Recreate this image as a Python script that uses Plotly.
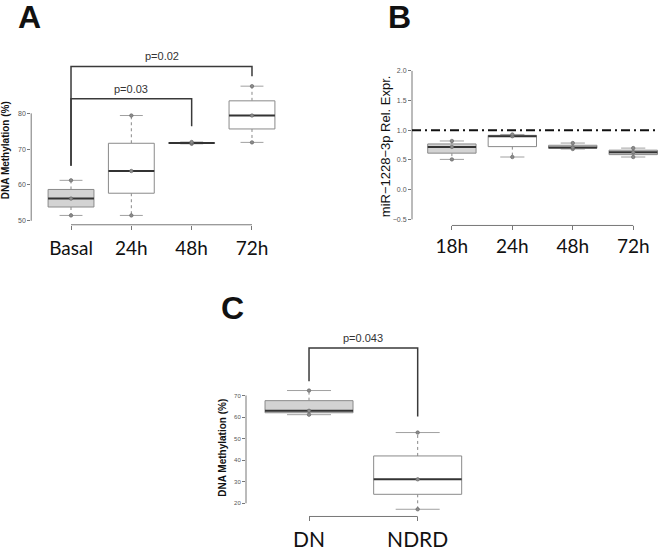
import numpy as np
import plotly.graph_objects as go

# ---------------- data ----------------
# Panel A: DNA methylation over time
a_groups = ["Basal", "24h", "48h", "72h"]
a_values = [[51.5, 56.2, 61.3], [51.5, 63.9, 79.4], [71.5, 71.7, 72.0], [71.9, 79.4, 87.6]]
a_fill = ["#d3d3d3", "#ffffff", "#ffffff", "#ffffff"]
a_yticks = [50, 60, 70, 80]
a_p_text = ["p=0.03", "p=0.02"]
a_p_from = [1, 1]
a_p_to = [3, 4]
a_p_top = [84.1, 93.1]
a_p_left_bottom = [65.4, 65.4]
a_p_right_bottom = [76.4, 90.4]

# Panel B: miR-1228-3p relative expression
b_groups = ["18h", "24h", "48h", "72h"]
b_values = [[0.51, 0.72, 0.82], [0.55, 0.90, 0.93], [0.685, 0.71, 0.785], [0.55, 0.63, 0.70]]
b_fill = ["#d3d3d3", "#ffffff", "#ebebeb", "#d3d3d3"]
b_yticks = [-0.5, 0.0, 0.5, 1.0, 1.5, 2.0]
b_ref = 1.0

# Panel C: DN vs NDRD
c_groups = ["DN", "NDRD"]
c_values = [[61.1, 62.9, 72.3], [17.2, 31.1, 52.8]]
c_fill = ["#d3d3d3", "#ffffff"]
c_yticks = [20, 30, 40, 50, 60, 70]
c_p_text = ["p=0.043"]
c_p_from = [1]
c_p_to = [2]
c_p_top = [92.0]
c_p_left_bottom = [76.6]
c_p_right_bottom = [60.2]

W, H = 658, 551
BOX_LINE = "#8a8a8a"
MED_LINE = "#333333"
AX_LINE = "#777777"

fig = go.Figure()


def add_boxes(values, fills, width, xa, ya):
    for i, (vals, fc) in enumerate(zip(values, fills)):
        xi = i + 1
        v = np.array(vals, dtype=float)
        q1, med, q3 = np.quantile(v, [0.25, 0.5, 0.75])
        lo, hi = v.min(), v.max()
        h = width / 2
        c = width / 4
        # whiskers (dotted)
        fig.add_trace(go.Scatter(x=[xi, xi, None, xi, xi], y=[q3, hi, None, q1, lo],
                                 mode="lines", line=dict(color="#888888", width=1, dash="dot"),
                                 xaxis=xa, yaxis=ya, hoverinfo="skip", showlegend=False))
        # caps
        fig.add_trace(go.Scatter(x=[xi - c, xi + c, None, xi - c, xi + c], y=[hi, hi, None, lo, lo],
                                 mode="lines", line=dict(color="#a0a0a0", width=1),
                                 xaxis=xa, yaxis=ya, hoverinfo="skip", showlegend=False))
        # box
        fig.add_trace(go.Scatter(x=[xi - h, xi + h, xi + h, xi - h, xi - h], y=[q1, q1, q3, q3, q1],
                                 mode="lines", fill="toself", fillcolor=fc,
                                 line=dict(color=BOX_LINE, width=1),
                                 xaxis=xa, yaxis=ya, hoverinfo="skip", showlegend=False))
        # median
        fig.add_trace(go.Scatter(x=[xi - h, xi + h], y=[med, med], mode="lines",
                                 line=dict(color=MED_LINE, width=2),
                                 xaxis=xa, yaxis=ya, hoverinfo="skip", showlegend=False))
        # points
        fig.add_trace(go.Scatter(x=[xi] * len(v), y=v, mode="markers",
                                 marker=dict(size=3.5, color="#8c8c8c", line=dict(color="#606060", width=0.6)),
                                 xaxis=xa, yaxis=ya, showlegend=False))


def add_brackets(texts, x0s, x1s, tops, lbs, rbs, xa, ya):
    for t, x0, x1, top, lb, rb in zip(texts, x0s, x1s, tops, lbs, rbs):
        fig.add_trace(go.Scatter(x=[x0, x0, x1, x1], y=[lb, top, top, rb], mode="lines",
                                 line=dict(color="#3a3a3a", width=1.5),
                                 xaxis=xa, yaxis=ya, hoverinfo="skip", showlegend=False))
        fig.add_annotation(x=(x0 + x1) / 2, y=top, xref=xa, yref=ya, text=t, showarrow=False,
                           yanchor="bottom", yshift=2,
                           font=dict(family="Liberation Sans, Arial", size=11, color="#333333"))


add_boxes(a_values, a_fill, 0.76, "x", "y")
add_brackets(a_p_text, a_p_from, a_p_to, a_p_top, a_p_left_bottom, a_p_right_bottom, "x", "y")
add_boxes(b_values, b_fill, 0.80, "x2", "y2")
add_boxes(c_values, c_fill, 0.81, "x3", "y3")
add_brackets(c_p_text, c_p_from, c_p_to, c_p_top, c_p_left_bottom, c_p_right_bottom, "x3", "y3")


def dom_x(p0, p1):
    return [p0 / W, p1 / W]


def dom_y(top_px, bot_px):
    return [1 - bot_px / H, 1 - top_px / H]


xfont = dict(family="Lato, Carlito, Calibri, sans-serif", size=19, color="#111111")
yfont = dict(family="Liberation Sans, Arial", size=7, color="#555555")

common_x = dict(showgrid=False, zeroline=False, showline=False, ticks="outside", ticklen=4,
                tickcolor=AX_LINE, tickwidth=1, fixedrange=True)
common_y = dict(showgrid=False, zeroline=False, showline=False, ticks="outside", ticklen=3,
                tickcolor=AX_LINE, tickwidth=1, tickfont=yfont, fixedrange=True)

fig.update_layout(
    width=W, height=H, margin=dict(l=0, r=0, t=0, b=0),
    paper_bgcolor="white", plot_bgcolor="white", showlegend=False,
    xaxis=dict(domain=dom_x(31.2, 291.8), range=[0.34, 4.66], tickvals=[1, 2, 3, 4],
               ticktext=a_groups, tickfont=xfont, anchor="y", ticklabelstandoff=2, **common_x),
    yaxis=dict(domain=dom_y(60, 226), range=[50 - 4 / 3.6, 50 + 162 / 3.6], tickvals=a_yticks,
               anchor="x", **common_y),
    xaxis2=dict(domain=dom_x(412, 658), range=[0.34, 4.41], tickvals=[1, 2, 3, 4],
                ticktext=b_groups, tickfont=xfont, anchor="y2", ticklabelstandoff=0, **common_x),
    yaxis2=dict(domain=dom_y(65, 226.7), range=[-36.0 / 59.7, 125.7 / 59.7], tickvals=b_yticks,
                tickformat=".1f", anchor="x2", **common_y),
    xaxis3=dict(domain=dom_x(246, 480.7), range=[0.42, 2.58], tickvals=[1, 2],
                ticktext=c_groups, tickfont=dict(xfont, size=21), anchor="y3",
                ticklabelstandoff=0, **common_x),
    yaxis3=dict(domain=dom_y(343.5, 519.3), range=[20 - 13.3 / 2.166, 95], tickvals=c_yticks,
                anchor="x3", **dict(common_y, tickfont=dict(yfont, size=6))),
)

# axis lines spanning only the tick range (R style)
for xa, ya, yt, n in [("x", "y", a_yticks, 4), ("x2", "y2", b_yticks, 4), ("x3", "y3", c_yticks, 2)]:
    fig.add_shape(type="line", xref=xa + " domain", x0=0, x1=0, yref=ya, y0=min(yt), y1=max(yt),
                  line=dict(color=AX_LINE, width=1))
    fig.add_shape(type="line", xref=xa, x0=1, x1=n, yref=ya + " domain", y0=0, y1=0,
                  line=dict(color=AX_LINE, width=1))

# reference line in panel B
fig.add_shape(type="line", xref="x2 domain", x0=0, x1=1, yref="y2", y0=b_ref, y1=b_ref,
              line=dict(color="#111111", width=2, dash="9px,4px,2px,4px"))


def ann_px(x, y, text, size, bold=False, angle=0):
    fig.add_annotation(x=x / W, y=1 - y / H, xref="paper", yref="paper", text=text,
                       showarrow=False, textangle=angle, xanchor="center", yanchor="middle",
                       font=dict(family="Liberation Sans, Arial", size=size, color="#111111",
                                 weight="bold" if bold else "normal"))


# axis titles
ann_px(5, 151, "DNA Methylation (%)", 10, bold=True, angle=-90)
ann_px(385, 147, "miR\u22121228\u22123p Rel. Expr.", 13, angle=-90)
ann_px(221.7, 450.5, "DNA Methylation (%)", 10, bold=True, angle=-90)

# panel letters
ann_px(29, 17.5, "A", 32, bold=True)
ann_px(399.5, 17.5, "B", 32, bold=True)
ann_px(232, 310, "C", 32, bold=True)

fig.write_html("out.html", config={"displayModeBar": False},
               post_script="document.body.style.margin='0';")
